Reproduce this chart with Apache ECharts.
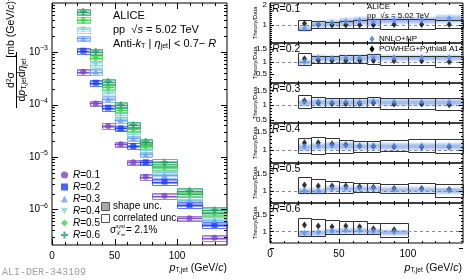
<!DOCTYPE html>
<html><head><meta charset="utf-8">
<script src="https://cdn.jsdelivr.net/npm/echarts@6/dist/echarts.min.js"></script>
<style>html,body{margin:0;padding:0;background:#fff}#c{width:466px;height:280px}</style>
</head><body><div id="c"></div>
<script>
// ---------------- data ----------------
const binLo = [20, 30, 40, 50, 60, 70, 80, 100, 120];
const binHi = [30, 40, 50, 60, 70, 80, 100, 120, 140];
const radiusLabels = ['R=0.1', 'R=0.2', 'R=0.3', 'R=0.4', 'R=0.5', 'R=0.6'];

// cross sections [mb (GeV/c)^-1]
const xsecR01 = [4.22e-4, 1.05e-4, 3.89e-5, 1.75e-5, 7.93e-6, 4.21e-6, 1.83e-6, 6.79e-7, 2.90e-7];
const xsecR02 = [1.06e-3, 2.60e-4, 8.69e-5, 3.52e-5, 1.62e-5, 7.93e-6, 3.39e-6, 1.22e-6, 5.07e-7];
const xsecR03 = [1.82e-3, 4.22e-4, 1.27e-4, 5.07e-5, 2.27e-5, 1.12e-5, 4.54e-6, 1.52e-6, 6.31e-7];
const xsecR04 = [2.70e-3, 5.65e-4, 1.63e-4, 6.31e-5, 2.74e-5, 1.36e-5, 5.41e-6, 1.71e-6, 7.30e-7];
const xsecR05 = [4.07e-3, 7.79e-4, 2.13e-4, 7.85e-5, 3.37e-5, 1.64e-5, 6.53e-6, 1.97e-6, 8.47e-7];
const xsecR06 = [5.86e-3, 1.01e-3, 2.72e-4, 9.77e-5, 4.07e-5, 1.95e-5, 7.93e-6, 2.25e-6, 9.77e-7];
// relative systematic uncertainties
const shapeUnc = [0.06, 0.06, 0.06, 0.07, 0.07, 0.08];
const corrUnc = [0.12, 0.12, 0.12, 0.13, 0.13, 0.14];

// Theory / Data
const powhegR01 = [1.08, 1.02, 1.00, 1.00, 1.00, 1.00, 1.02, 1.02, 1.02];
const powhegLoR01 = [0.75, 0.83, 0.83, 0.83, 0.83, 0.83, 0.78, 0.78, 0.83];
const powhegHiR01 = [1.25, 1.22, 1.17, 1.22, 1.25, 1.28, 1.28, 1.28, 1.25];
const nnloR01 = [0.83, 1.05, 1.12, 1.17, 1.22, 1.17, 1.25, 1.25, 1.33];

const powhegR02 = [1.12, 1.06, 1.05, 1.05, 1.05, 1.05, 1.04, 1.03, 1.00];
const powhegLoR02 = [0.87, 0.94, 0.94, 0.94, 0.94, 0.91, 0.87, 0.87, 0.80];
const powhegHiR02 = [1.34, 1.24, 1.24, 1.28, 1.28, 1.30, 1.22, 1.22, 1.22];
const nnloR02 = [1.00, 1.16, 1.14, 1.16, 1.16, 1.18, 1.17, 1.17, 1.17];

const powhegR03 = [1.15, 1.08, 1.06, 1.06, 1.06, 1.08, 1.04, 1.04, 1.02];
const powhegLoR03 = [0.90, 0.95, 0.93, 0.94, 0.94, 0.95, 0.86, 0.86, 0.84];
const powhegHiR03 = [1.35, 1.29, 1.26, 1.26, 1.26, 1.29, 1.23, 1.23, 1.23];
const nnloR03 = [1.09, 1.12, 1.10, 1.12, 1.10, 1.13, 1.12, 1.12, 1.10];

const powhegR04 = [1.21, 1.21, 1.17, 1.15, 1.12, 1.11, 1.10, 1.10, 1.10];
const powhegLoR04 = [0.92, 0.90, 0.93, 0.93, 0.96, 0.96, 0.97, 0.95, 0.92];
const powhegHiR04 = [1.33, 1.37, 1.33, 1.28, 1.26, 1.26, 1.28, 1.30, 1.30];
const nnloR04 = [1.10, 1.12, 1.13, 1.13, 1.12, 1.12, 1.12, 1.12, 1.12];

const powhegR05 = [1.17, 1.14, 1.14, 1.14, 1.12, 1.10, 1.07, 1.07, 1.04];
const powhegLoR05 = [0.93, 0.93, 0.95, 0.95, 0.96, 0.97, 0.93, 0.93, 0.81];
const powhegHiR05 = [1.41, 1.33, 1.29, 1.26, 1.23, 1.23, 1.19, 1.23, 1.20];
const nnloR05 = [1.00, 1.00, 1.07, 1.07, 1.07, 1.07, 1.04, 1.04, 1.02];

const powhegR06 = [1.19, 1.16, 1.14, 1.16, 1.14, 1.08, 1.05];
const powhegLoR06 = [0.875, 0.875, 0.91, 0.91, 0.91, 0.93, 0.84];
const powhegHiR06 = [1.40, 1.36, 1.34, 1.32, 1.32, 1.24, 1.24];
const nnloR06 = [0.95, 0.97, 1.01, 1.03, 1.03, 1.01, 0.98];

const nnloUnc = [0.18, 0.13, 0.12, 0.10, 0.10, 0.10];

const ratioMin = [0.1, 0.15, 0.4, 0.65, 0.65, 0.65];
const ratioMax = [2.1, 1.75, 1.75, 1.75, 1.8, 1.85];
const ratioInterval = [0.1, 0.05, 0.05, 0.05, 0.05, 0.05];
const ratioLabels = [[1, 2], [0.5, 1, 1.5], [0.5, 1, 1.5], [0.5, 1, 1.5], [0.5, 1, 1.5], [0.5, 1, 1.5]];
const xTickLabels = [0, 50, 100];

// ---------------- style ----------------
const FONT = 'Liberation Sans';
const colors = ['#7b44c9', '#1d3df2', '#6e9cf0', '#7fd6d2', '#3ecf45', '#1f9d6c'];
const fills = ['rgba(150,110,220,0.22)', 'rgba(60,90,245,0.25)', 'rgba(120,160,240,0.22)', 'rgba(130,215,210,0.22)', 'rgba(70,205,75,0.22)', 'rgba(40,150,100,0.35)'];
const downTri = 'path://M0,0L10,0L5,9Z';
const crossSym = 'path://M3.5,0H6.5V3.5H10V6.5H6.5V10H3.5V6.5H0V3.5H3.5Z';
const symbols = ['circle', 'rect', 'triangle', downTri, 'diamond', crossSym];
const symSizes = [6, 6, 6, 6, [6, 8], 7];

const xsecAll = [xsecR01, xsecR02, xsecR03, xsecR04, xsecR05, xsecR06];
const powhegAll = [powhegR01, powhegR02, powhegR03, powhegR04, powhegR05, powhegR06];
const powhegLoAll = [powhegLoR01, powhegLoR02, powhegLoR03, powhegLoR04, powhegLoR05, powhegLoR06];
const powhegHiAll = [powhegHiR01, powhegHiR02, powhegHiR03, powhegHiR04, powhegHiR05, powhegHiR06];
const nnloAll = [nnloR01, nnloR02, nnloR03, nnloR04, nnloR05, nnloR06];

function r(x) { return Math.round(x) + 0.5; }
function rect(p0, p1, style) {
  const x0 = r(Math.min(p0[0], p1[0])), x1 = r(Math.max(p0[0], p1[0]));
  const y0 = r(Math.min(p0[1], p1[1])), y1 = r(Math.max(p0[1], p1[1]));
  return { type: 'rect', shape: { x: x0, y: y0, width: x1 - x0, height: y1 - y0 }, style };
}

function boxRender(k) {
  return function (params, api) {
    const lo = api.value(0), hi = api.value(1), v = api.value(2);
    const s = shapeUnc[k], c = corrUnc[k];
    const m0 = api.coord([lo, v]), m1 = api.coord([hi, v]);
    return {
      type: 'group', children: [
        rect(api.coord([lo, v * (1 + s)]), api.coord([hi, v * (1 - s)]), { fill: fills[k], stroke: colors[k], lineWidth: 0.6, opacity: 0.8 }),
        rect(api.coord([lo, v * (1 + c)]), api.coord([hi, v * (1 - c)]), { fill: 'none', stroke: colors[k], lineWidth: 1, opacity: 0.7 }),
        { type: 'line', shape: { x1: m0[0], y1: r(m0[1]), x2: m1[0], y2: r(m1[1]) }, style: { stroke: colors[k], lineWidth: 1, opacity: 0.9 } }
      ]
    };
  };
}

function tickSeries(gi, xRef, yRef, xMaj, xMin, yMaj, yMin, Lmaj, Lmin) {
  const data = [];
  xMaj.forEach(v => data.push([0, v, Lmaj]));
  xMin.forEach(v => data.push([0, v, Lmin]));
  yMaj.forEach(v => data.push([1, v, Lmaj]));
  yMin.forEach(v => data.push([1, v, Lmin]));
  return {
    type: 'custom', xAxisIndex: gi, yAxisIndex: gi, silent: true, z: 10, clip: false,
    data: data.map(d => ({ value: [xRef, yRef, d[0], d[1], d[2]] })),
    encode: { x: 0, y: 1 },
    renderItem: function (params, api) {
      const cs = params.coordSys;
      const t = api.value(2), v = api.value(3), L = api.value(4);
      const st = { stroke: '#000', lineWidth: 1 };
      if (t === 0) {
        const px = r(api.coord([v, yRef])[0]);
        const yb = cs.y + cs.height, yt = cs.y;
        return { type: 'group', children: [
          { type: 'line', shape: { x1: px, y1: yb, x2: px, y2: yb - L }, style: st },
          { type: 'line', shape: { x1: px, y1: yt, x2: px, y2: yt + L }, style: st }] };
      } else {
        const py = r(api.coord([xRef, v])[1]);
        const xl = cs.x, xr = cs.x + cs.width;
        return { type: 'group', children: [
          { type: 'line', shape: { x1: xl, y1: py, x2: xl + L, y2: py }, style: st },
          { type: 'line', shape: { x1: xr, y1: py, x2: xr - L, y2: py }, style: st }] };
      }
    }
  };
}

const xMajor = [0, 50, 100];
const xMinor = [10, 20, 30, 40, 60, 70, 80, 90, 110, 120, 130];
const logMin = 2.1e-7, logMax = 8.6e-3;
const logMajor = [1e-6, 1e-5, 1e-4, 1e-3];
const logMinor = [];
for (let e = -7; e <= -3; e++) for (let m = 2; m <= 9; m++) {
  const v = m * Math.pow(10, e);
  if (v > logMin && v < logMax) logMinor.push(v);
}

// ---------------- layout ----------------
const grids = [{ left: 52, top: 3, width: 175, height: 242 }];
for (let k = 0; k < 6; k++) grids.push({ left: 270, top: 3 + 40 * k, width: 193, height: 40 });
grids.forEach(g => { g.show = true; g.borderColor = '#000'; g.borderWidth = 1; g.backgroundColor = 'transparent'; });

const supRich = { sup: { fontSize: 7, lineHeight: 8, verticalAlign: 'top', fontFamily: FONT } };

const xAxes = [], yAxes = [];
xAxes.push({ type: 'value', gridIndex: 0, min: 0, max: 140, interval: 10, axisLine: { show: false }, axisTick: { show: false }, splitLine: { show: false },
  axisLabel: { fontSize: 10, fontFamily: FONT, color: '#000', margin: 6, formatter: v => xTickLabels.includes(v) ? String(v) : '' } });
yAxes.push({ type: 'log', logBase: 10, gridIndex: 0, min: logMin, max: logMax, axisLine: { show: false }, axisTick: { show: false }, splitLine: { show: false },
  axisLabel: { showMinLabel: false, showMaxLabel: false, fontSize: 10, fontFamily: FONT, color: '#000', margin: 4, lineHeight: 14, rich: supRich,
    formatter: v => { const e = Math.log10(v); return Math.abs(e - Math.round(e)) < 0.01 ? '10{sup|\u2212' + Math.abs(Math.round(e)) + '}' : ''; } } });
for (let k = 0; k < 6; k++) {
  xAxes.push({ type: 'value', gridIndex: k + 1, min: 0, max: 140, interval: 10, axisLine: { show: false }, axisTick: { show: false }, splitLine: { show: false },
    axisLabel: { show: k === 5, fontSize: 10, fontFamily: FONT, color: '#000', margin: 6, formatter: v => xTickLabels.includes(v) ? String(v) : '' } });
  const labs = ratioLabels[k];
  yAxes.push({ type: 'value', gridIndex: k + 1, min: ratioMin[k], max: ratioMax[k], interval: ratioInterval[k], axisLine: { show: false }, axisTick: { show: false }, splitLine: { show: false },
    axisLabel: { showMinLabel: true, showMaxLabel: false, fontSize: 8, fontFamily: FONT, color: '#000', margin: 3,
      formatter: v => { const f = labs.find(l => Math.abs(l - v) < 1e-6); return f !== undefined ? String(f) : ''; } } });
}

// ---------------- series ----------------
const series = [];
radiusLabels.forEach((name, k) => {
  const vals = xsecAll[k];
  series.push({ type: 'custom', xAxisIndex: 0, yAxisIndex: 0, z: 2, silent: true, renderItem: boxRender(k),
    encode: { x: [0, 1], y: 2 }, data: vals.map((v, i) => [binLo[i], binHi[i], v]) });
});
radiusLabels.forEach((name, k) => {
  const vals = xsecAll[k];
  series.push({ type: 'scatter', name, xAxisIndex: 0, yAxisIndex: 0, z: 5, symbol: symbols[k], symbolSize: symSizes[k],
    itemStyle: { color: colors[k] }, data: vals.map((v, i) => [(binLo[i] + binHi[i]) / 2, v]) });
});
series.push(tickSeries(0, 1, 1e-4, xMajor, xMinor, logMajor, logMinor, 6, 3));

for (let k = 0; k < 6; k++) {
  const gi = k + 1;
  const nn = nnloAll[k], pw = powhegAll[k], pl = powhegLoAll[k], ph = powhegHiAll[k];
  const u = nnloUnc[k];
  series.push({ type: 'custom', xAxisIndex: gi, yAxisIndex: gi, z: 1, silent: true, encode: { x: [0, 1], y: 2 },
    data: nn.map((v, i) => [binLo[i], binHi[i], v]),
    renderItem: (params, api) => {
      const lo = api.value(0), hi = api.value(1), v = api.value(2);
      return { type: 'group', children: [
        rect(api.coord([lo, v * (1 + u)]), api.coord([hi, v * (1 - u)]), { fill: 'rgba(150,185,240,0.45)', stroke: 'none' }),
        rect(api.coord([lo, v * (1 + u / 2)]), api.coord([hi, v * (1 - u / 2)]), { fill: 'rgba(90,130,215,0.35)', stroke: 'none' })] };
    } });
  series.push({ type: 'custom', xAxisIndex: gi, yAxisIndex: gi, z: 3, silent: true, encode: { x: [0, 1], y: [2, 3] },
    data: pw.map((v, i) => [binLo[i], binHi[i], pl[i], ph[i]]),
    renderItem: (params, api) => rect(api.coord([api.value(0), api.value(3)]), api.coord([api.value(1), api.value(2)]), { fill: 'none', stroke: '#333', lineWidth: 1 }) });
  series.push({ type: 'scatter', xAxisIndex: gi, yAxisIndex: gi, z: 5, symbol: 'diamond', symbolSize: [5, 7], itemStyle: { color: '#000' },
    data: pw.map((v, i) => [(binLo[i] + binHi[i]) / 2, v]),
    markLine: { silent: true, symbol: 'none', label: { show: false }, lineStyle: { type: [3, 3], color: '#888', width: 1 }, data: [{ yAxis: 1 }] } });
  series.push({ type: 'scatter', xAxisIndex: gi, yAxisIndex: gi, z: 6, symbol: 'diamond', symbolSize: [5, 7], itemStyle: { color: '#5b92ef' },
    data: nn.map((v, i) => [(binLo[i] + binHi[i]) / 2, v]) });
  const yMaj = ratioLabels[k];
  const yMin = [];
  for (let t = 1; t <= 21; t++) { const v = t / 10; if (v > ratioMin[k] && v < ratioMax[k] && !yMaj.some(m => Math.abs(m - v) < 1e-6)) yMin.push(v); }
  series.push(tickSeries(gi, 1, 1, xMajor, xMinor, yMaj, yMin, 4, 2));
}

// ---------------- texts ----------------
function txt(x, y, text, size, extra) {
  return Object.assign({ type: 'text', x, y, silent: true, z: 20,
    style: Object.assign({ text, fontSize: size, fontFamily: FONT, fill: '#000', align: 'left', verticalAlign: 'middle',
      rich: { i: { fontStyle: 'italic', fontSize: size, fontFamily: FONT },
              s: { fontSize: size * 0.65, lineHeight: size * 0.7, verticalAlign: 'bottom', fontFamily: FONT },
              u: { fontSize: size * 0.65, lineHeight: size * 0.7, verticalAlign: 'top', fontFamily: FONT } } }, extra || {}) });
}
const graphics = [
  txt(113, 16, 'ALICE', 11),
  txt(113, 30, 'pp  \u221A{i|s} = 5.02 TeV', 11),
  txt(113, 44, 'Anti-{i|k}{s|T} | {i|\u03B7}{s|jet}| < 0.7\u2212 {i|R}', 11),
  { type: 'rect', silent: true, shape: { x: 101.5, y: 202.5, width: 8, height: 8 }, style: { fill: '#a8a8a8', stroke: '#555', lineWidth: 1 } },
  { type: 'rect', silent: true, shape: { x: 101.5, y: 214.5, width: 8, height: 8 }, style: { fill: '#fff', stroke: '#555', lineWidth: 1 } },
  txt(113, 206, 'shape unc.', 10),
  txt(113, 218, 'correlated unc.', 10),
  txt(110, 230, '\u03C3', 10),
  txt(116, 226.5, 'syst', 5),
  txt(116, 233.5, '\u2112{s|int}', 6),
  txt(126, 230, '= 2.1%', 10),
  txt(227, 268, '{i|p}{s|T,jet} (GeV/{i|c})', 10.5, { align: 'right' }),
  txt(462, 268, '{i|p}{s|T,jet} (GeV/{i|c})', 10.5, { align: 'right' }),
  { type: 'text', x: 2, y: 272, silent: true, style: { text: 'ALI-DER-343109', fontSize: 10, fontFamily: 'Liberation Mono', fill: '#a0a0a0', verticalAlign: 'middle' } },
  // y-axis title (rotated)
  txt(11, 24, '[mb (GeV/{i|c}){u|\u22121}]', 10.5, { align: 'center' }),
  txt(11, 80, 'd{u|2}\u03C3', 10.5, { align: 'center' }),
  { type: 'line', silent: true, shape: { x1: 16.5, y1: 52, x2: 16.5, y2: 108 }, style: { stroke: '#000', lineWidth: 1 } },
  txt(22, 80, 'd{i|p}{s|T,jet}d{i|\u03B7}{s|jet}', 10.5, { align: 'center' }),
  // right panel
  txt(367, 7, 'ALICE', 8),
  txt(367, 16, 'pp  \u221A{i|s} = 5.02 TeV', 8),
  txt(379, 39, 'NNLO+NP', 8),
  txt(379, 49, 'POWHEG+Pythia8 A14', 8),
  { type: 'polygon', silent: true, shape: { points: [[372, 35.5], [374.5, 39], [372, 42.5], [369.5, 39]] }, style: { fill: '#5b92ef' } },
  { type: 'polygon', silent: true, shape: { points: [[372, 45.5], [374.5, 49], [372, 52.5], [369.5, 49]] }, style: { fill: '#000' } }
];
// rotate the y-title elements
[14, 15, 17].forEach(i => { graphics[i].rotation = Math.PI / 2; });
for (let k = 0; k < 6; k++) {
  graphics.push(txt(272, 9 + 40 * k, '{i|R}=' + radiusLabels[k].slice(2), 10.5));
  const t = txt(255, 23 + 40 * k, 'Theory/Data', 6, { align: 'center' });
  t.rotation = Math.PI / 2;
  graphics.push(t);
}

const option = {
  animation: false,
  backgroundColor: '#fff',
  textStyle: { fontFamily: FONT },
  grid: grids,
  xAxis: xAxes,
  yAxis: yAxes,
  legend: {
    left: 56, top: 164, orient: 'vertical', itemGap: 0, itemWidth: 7, itemHeight: 7, selectedMode: false,
    textStyle: { fontSize: 10, fontFamily: FONT, color: '#000', lineHeight: 12, rich: { i: { fontStyle: 'italic', fontSize: 10, fontFamily: FONT } } },
    formatter: n => '{i|R}' + n.slice(1),
    data: radiusLabels.map((n, k) => ({ name: n, icon: symbols[k], itemStyle: { color: colors[k] } }))
  },
  graphic: graphics,
  series
};
const chart = echarts.init(document.getElementById('c'), null, { renderer: 'canvas' });
chart.setOption(option);
</script></body></html>
